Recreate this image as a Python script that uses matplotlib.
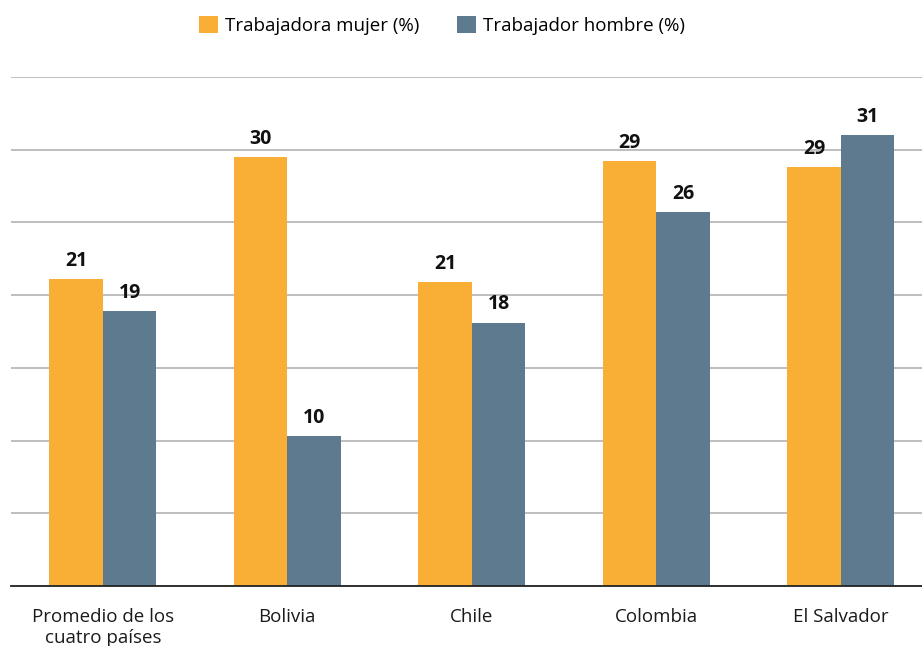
import matplotlib
matplotlib.use("Agg")
import matplotlib.pyplot as plt
import numpy as np

categories = ["Promedio de los\ncuatro países", "Bolivia", "Chile", "Colombia", "El Salvador"]
mujer = [21.1, 29.5, 20.9, 29.2, 28.8]
hombre = [18.9, 10.3, 18.1, 25.7, 31.0]
series_names = ["Trabajadora mujer (%)", "Trabajador hombre (%)"]
yticks = [0, 5, 10, 15, 20, 25, 30, 35]

c_mujer = "#F9AE36"
c_hombre = "#5E7A8E"

plt.rcParams['font.family'] = ['Open Sans', 'DejaVu Sans']

fig = plt.figure(figsize=(9.22, 6.46), dpi=100)
ax = fig.add_axes([10.5 / 922, 1 - 586 / 646, 922.5 / 922, (586 - 77) / 646])

x = np.arange(len(categories))
w = 0.29
b1 = ax.bar(x - w / 2, mujer, w, color=c_mujer, label=series_names[0], zorder=3)
b2 = ax.bar(x + w / 2, hombre, w, color=c_hombre, label=series_names[1], zorder=3)

for bars in (b1, b2):
    ax.bar_label(bars, fmt="%.0f", padding=6, fontsize=14, fontweight='bold', color='#111111')

ax.set_xlim(-0.5, len(categories) - 0.5)
ax.set_ylim(0, 35)
ax.set_yticks(yticks)
ax.yaxis.grid(True, color='#b3b3b3', linewidth=1.2, zorder=0)
ax.tick_params(axis='y', length=0, labelleft=False)
ax.set_xticks(x)
ax.set_xticklabels(categories, fontsize=13.5, color='#1a1a1a', linespacing=1.2)
ax.tick_params(axis='x', length=0, pad=16)
for s in ['top', 'right', 'left']:
    ax.spines[s].set_visible(False)
ax.spines['bottom'].set_color('#222222')
ax.spines['bottom'].set_linewidth(1.3)
ax.spines['bottom'].set_zorder(4)

fig.legend(handles=[b1, b2], labels=series_names, loc='upper center',
           bbox_to_anchor=(442 / 922, 1 + 1 / 646), ncol=2, frameon=False,
           fontsize=13.5, handlelength=1.0, handleheight=1.0, handletextpad=0.4,
           columnspacing=2.0)

fig.savefig("out.png", dpi=100)
